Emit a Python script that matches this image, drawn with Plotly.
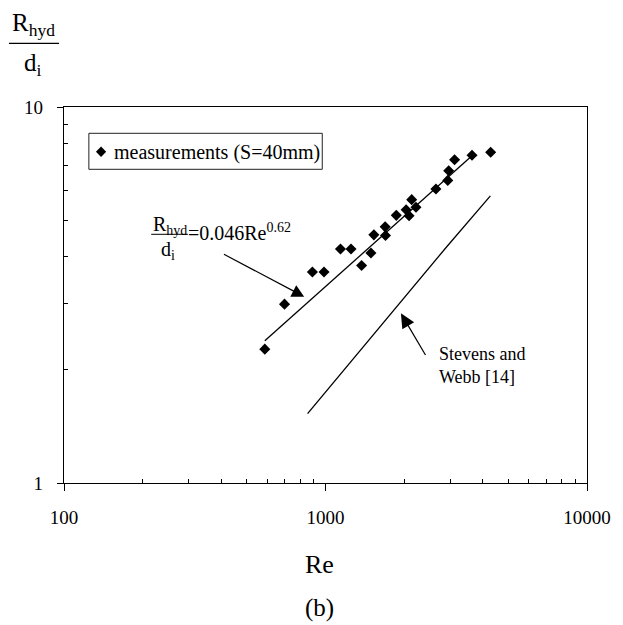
import math
import plotly.graph_objects as go

# ---------------- data ----------------
re_meas = [586, 697, 891, 987, 1141, 1252, 1374, 1492, 1531, 1691, 1696,
           1865, 2034, 2087, 2136, 2218, 2644, 2934, 2959, 3116, 3633, 4281]
rhyd_meas = [2.27, 2.99, 3.64, 3.64, 4.19, 4.19, 3.79, 4.09, 4.57, 4.80, 4.55,
             5.15, 5.33, 5.14, 5.67, 5.41, 6.05, 6.38, 6.77, 7.24, 7.44, 7.58]

fit_re = [586, 3650]
fit_rhyd = [2.39, 7.44]

sw_re = [854, 2908, 4271]
sw_rhyd = [1.53, 4.25, 5.80]

x_tickvals = [100, 1000, 10000]
x_ticktext = ["100", "1000", "10000"]
y_tickvals = [1, 10]
y_ticktext = ["1", "10"]
x_minor = [200, 300, 400, 500, 600, 700, 800, 900,
           2000, 3000, 4000, 5000, 6000, 7000, 8000, 9000]
y_minor = [2, 3, 4, 5, 6, 7, 8, 9]

legend_label = "measurements (S=40mm)"
series_label_sw = "Stevens and<br>Webb [14]"

# ---------------- layout geometry ----------------
W, H = 623, 625
L, R, T, B = 64, 27, 107, 142
PW, PH = W - L - R, H - T - B
FONT = "Liberation Serif"


def px_x(px):
    return (px - L) / PW


def px_y(py):
    return (H - B - py) / PH


def arrow_shapes(tail, tip, head_len, head_w, width=1.2):
    """Straight arrow drawn as a line plus a filled triangular head (pixel input)."""
    dx, dy = tip[0] - tail[0], tip[1] - tail[1]
    n = math.hypot(dx, dy)
    ux, uy = dx / n, dy / n
    bx, by = tip[0] - ux * head_len, tip[1] - uy * head_len
    px_, py_ = -uy, ux
    c1 = (bx + px_ * head_w / 2, by + py_ * head_w / 2)
    c2 = (bx - px_ * head_w / 2, by - py_ * head_w / 2)
    line = dict(type="line", xref="paper", yref="paper",
                x0=px_x(tail[0]), y0=px_y(tail[1]),
                x1=px_x(bx + ux * 1), y1=px_y(by + uy * 1),
                line=dict(color="black", width=width))
    head = dict(type="path", xref="paper", yref="paper",
                path=(f"M {px_x(tip[0])},{px_y(tip[1])} L {px_x(c1[0])},{px_y(c1[1])} "
                      f"L {px_x(c2[0])},{px_y(c2[1])} Z"),
                fillcolor="black", line=dict(width=0))
    return [line, head]


fig = go.Figure()

fig.add_trace(go.Scatter(
    x=fit_re, y=fit_rhyd, mode="lines",
    line=dict(color="black", width=1.3), showlegend=False, hoverinfo="skip"))

fig.add_trace(go.Scatter(
    x=sw_re, y=sw_rhyd, mode="lines",
    line=dict(color="black", width=1.3), showlegend=False, hoverinfo="skip"))

fig.add_trace(go.Scatter(
    x=re_meas, y=rhyd_meas, mode="markers", name=legend_label,
    marker=dict(symbol="diamond", size=8.5, color="black", line=dict(width=0)),
    showlegend=False))

axis_common = dict(
    type="log", showgrid=False, zeroline=False,
    showline=True, linecolor="black", linewidth=1.4, mirror=True,
    ticks="outside", tickcolor="black", tickwidth=1.2,
    tickfont=dict(family=FONT, size=19, color="black"),
)

fig.update_xaxes(
    **axis_common, range=[2, 4], tickmode="array",
    tickvals=x_tickvals, ticktext=x_ticktext, ticklen=7,
    ticklabelstandoff=10,
    minor=dict(ticks="inside", ticklen=4, tickwidth=1, tickcolor="black",
               tickmode="array", tickvals=x_minor, showgrid=False),
)
fig.update_yaxes(
    **axis_common, range=[0, 1], tickmode="array",
    tickvals=y_tickvals, ticktext=y_ticktext, ticklen=6,
    ticklabelstandoff=10,
    minor=dict(ticks="inside", ticklen=4, tickwidth=1, tickcolor="black",
               tickmode="array", tickvals=y_minor, showgrid=False),
)

shapes = []
annotations = []

# manual legend box
shapes.append(dict(type="rect", xref="paper", yref="paper",
                   x0=px_x(89.3), x1=px_x(326.7), y0=px_y(169.3), y1=px_y(133.3),
                   line=dict(color="#222222", width=1), fillcolor="white", layer="below"))
cx, cy, hs = 101.7, 151.7, 5.2
shapes.append(dict(type="path", xref="paper", yref="paper",
                   path=(f"M {px_x(cx - hs)},{px_y(cy)} L {px_x(cx)},{px_y(cy - hs)} "
                         f"L {px_x(cx + hs)},{px_y(cy)} L {px_x(cx)},{px_y(cy + hs)} Z"),
                   fillcolor="black", line=dict(width=0)))
annotations.append(dict(xref="paper", yref="paper", x=px_x(113), y=px_y(152),
                        xanchor="left", yanchor="middle", showarrow=False,
                        text=legend_label,
                        font=dict(family=FONT, size=20, color="black")))

# fit equation label
shapes.append(dict(type="line", xref="paper", yref="paper",
                   x0=px_x(152.7), x1=px_x(190), y0=px_y(234.3), y1=px_y(234.3),
                   line=dict(color="black", width=1)))
annotations.append(dict(xref="paper", yref="paper", x=px_x(171.4), y=px_y(225),
                        xanchor="center", yanchor="middle", showarrow=False,
                        text="R<sub>hyd</sub>",
                        font=dict(family=FONT, size=20, color="black")))
annotations.append(dict(xref="paper", yref="paper", x=px_x(170), y=px_y(250),
                        xanchor="center", yanchor="middle", showarrow=False,
                        text="d<sub>i</sub>",
                        font=dict(family=FONT, size=20, color="black")))
annotations.append(dict(xref="paper", yref="paper", x=px_x(188), y=px_y(232),
                        xanchor="left", yanchor="middle", showarrow=False,
                        text="=0.046Re<sup>0.62</sup>",
                        font=dict(family=FONT, size=20, color="black")))

# arrows (label pointers)
shapes += arrow_shapes((226.7, 254.3), (308.3, 296.7), head_len=12.5, head_w=13)
shapes += arrow_shapes((431.7, 355.0), (406.7, 313.3), head_len=14.5, head_w=14)

# Stevens and Webb label
annotations.append(dict(xref="paper", yref="paper", x=px_x(443), y=px_y(365),
                        xanchor="left", yanchor="middle", align="left", showarrow=False,
                        text=series_label_sw,
                        font=dict(family=FONT, size=18, color="black")))

# y-axis title as a fraction (top-left)
shapes.append(dict(type="line", xref="paper", yref="paper",
                   x0=px_x(8), x1=px_x(59), y0=px_y(43.3), y1=px_y(43.3),
                   line=dict(color="black", width=1.3)))
annotations.append(dict(xref="paper", yref="paper", x=px_x(32.5), y=px_y(24),
                        xanchor="center", yanchor="middle", showarrow=False,
                        text="R<sub>hyd</sub>",
                        font=dict(family=FONT, size=25, color="black")))
annotations.append(dict(xref="paper", yref="paper", x=px_x(32.5), y=px_y(64),
                        xanchor="center", yanchor="middle", showarrow=False,
                        text="d<sub>i</sub>",
                        font=dict(family=FONT, size=25, color="black")))

# x-axis title and panel label
annotations.append(dict(xref="paper", yref="paper", x=px_x(324), y=px_y(564),
                        xanchor="center", yanchor="middle", showarrow=False,
                        text="Re", font=dict(family=FONT, size=26, color="black")))
annotations.append(dict(xref="paper", yref="paper", x=px_x(324), y=px_y(608),
                        xanchor="center", yanchor="middle", showarrow=False,
                        text="(b)", font=dict(family=FONT, size=25, color="black")))

fig.update_layout(
    width=W, height=H, autosize=False,
    margin=dict(l=L, r=R, t=T, b=B, pad=0),
    paper_bgcolor="white", plot_bgcolor="white",
    showlegend=False,
    shapes=shapes, annotations=annotations,
    font=dict(family=FONT, size=19, color="black"),
)

fig.write_html("out.html")
